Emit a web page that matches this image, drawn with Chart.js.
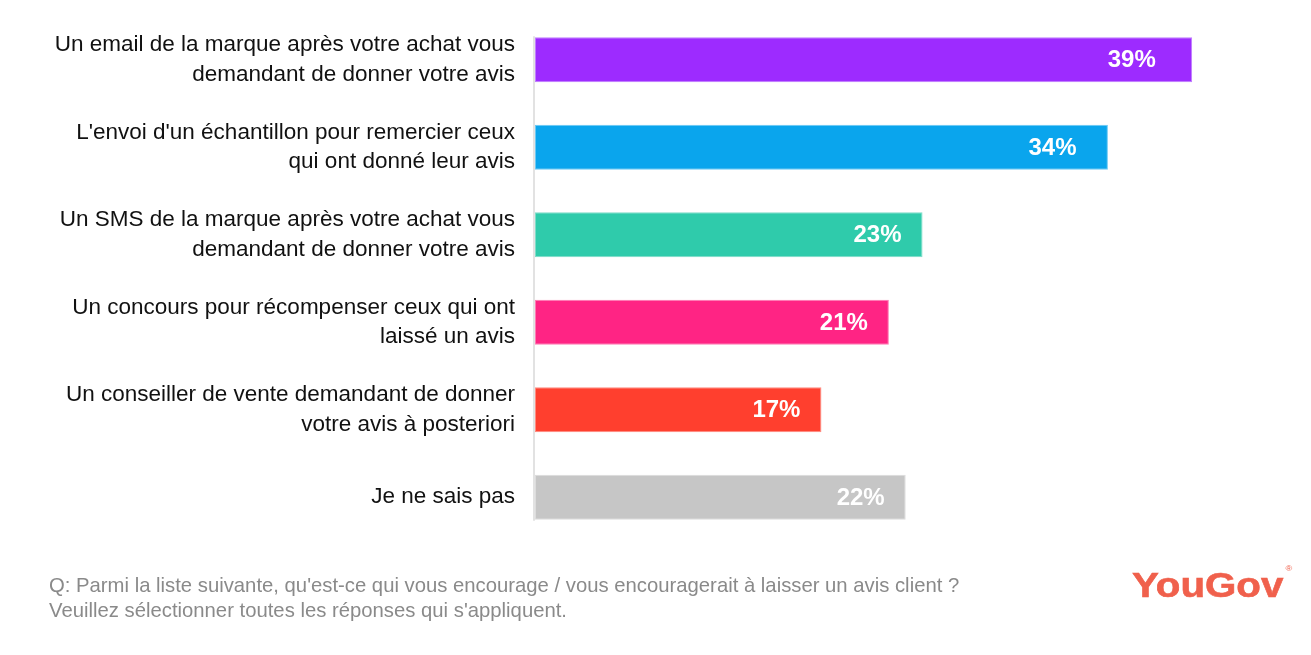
<!DOCTYPE html>
<html><head><meta charset="utf-8">
<script src="https://cdn.jsdelivr.net/npm/chart.js@4"></script>
<style>
html,body{margin:0;padding:0;background:#fff;}
#wrap{position:relative;width:1311px;height:655px;font-family:"Liberation Sans",Arial,sans-serif;}
#c{position:absolute;left:0;top:0;}
#foot{position:absolute;left:49px;top:573px;color:#8a8a8a;font-size:20.3px;line-height:25px;white-space:nowrap;}
#logo{position:absolute;left:1132px;top:565px;color:#f0604c;font-size:35px;font-weight:bold;letter-spacing:0px;white-space:nowrap;transform:scaleX(1.15);transform-origin:0 0;-webkit-text-stroke:0.6px #f0604c;}
#logo sup{font-size:8px;font-weight:normal;position:relative;top:-13px;left:2px;letter-spacing:0;-webkit-text-stroke:0;}
</style></head>
<body><div id="wrap"><canvas id="c" width="1311" height="655"></canvas>
<div id="foot">Q: Parmi la liste suivante, qu'est-ce qui vous encourage / vous encouragerait à laisser un avis client ?<br>Veuillez sélectionner toutes les réponses qui s'appliquent.</div>
<div id="logo">YouGov<sup>®</sup></div>
</div>
<script>
const categories = [
  ["Un email de la marque après votre achat vous","demandant de donner votre avis"],
  ["L'envoi d'un échantillon pour remercier ceux","qui ont donné leur avis"],
  ["Un SMS de la marque après votre achat vous","demandant de donner votre avis"],
  ["Un concours pour récompenser ceux qui ont","laissé un avis"],
  ["Un conseiller de vente demandant de donner","votre avis à posteriori"],
  ["Je ne sais pas"]
];
const values = [39, 34, 23, 21, 17, 22];
const valueLabels = ["39%", "34%", "23%", "21%", "17%", "22%"];
const barColors = ["#9d2bff", "#0aa5ed", "#2fcbab", "#ff2484", "#ff3f2e", "#c6c6c6"];
const borderColors = ["#c07dff", "#6cc9f4", "#7fdcc8", "#ff7ab4", "#ff8b80", "#dcdcdc"];

const valuePlugin = {
  id: 'vals',
  afterDatasetsDraw(chart) {
    const ctx = chart.ctx;
    const meta = chart.getDatasetMeta(0);
    ctx.save();
    ctx.font = 'bold 24px "Liberation Sans", Arial, sans-serif';
    ctx.fillStyle = '#fff';
    ctx.textAlign = 'right';
    ctx.textBaseline = 'middle';
    meta.data.forEach((bar, i) => {
      const w = bar.x - bar.base;
      ctx.fillText(valueLabels[i], bar.x - 21 - Math.max(0, w - 400) * 0.06, bar.y + 1);
    });
    const first = meta.data[0], last = meta.data[meta.data.length-1];
    ctx.strokeStyle = '#d9d9d9';
    ctx.lineWidth = 1.5;
    ctx.beginPath();
    ctx.moveTo(first.base - 1, first.y - first.height/2 - 1);
    ctx.lineTo(first.base - 1, last.y + last.height/2 + 1);
    ctx.stroke();
    ctx.restore();
  }
};

new Chart(document.getElementById('c'), {
  type: 'bar',
  data: {
    labels: categories,
    datasets: [{
      data: values,
      backgroundColor: barColors,
      borderColor: borderColors,
      borderWidth: 1,
      borderSkipped: false,
      barPercentage: 0.86,
      categoryPercentage: 0.6
    }]
  },
  options: {
    indexAxis: 'y',
    responsive: false,
    animation: false,
    layout: { padding: { left: 0, right: 102, top: 16, bottom: 114 } },
    plugins: { legend: { display: false }, tooltip: { enabled: false } },
    scales: {
      x: { min: 0, max: 40, display: false },
      y: {
        grid: { display: false },
        border: { display: false },
        ticks: {
          color: '#111',
          font: { size: 22.5, family: '"Liberation Sans", Arial, sans-serif', lineHeight: 1.3 },
          padding: 12
        },
        afterFit(scale) {
          scale.width = 535;
          scale.paddingTop = 0;
          scale.paddingBottom = 0;
        }
      }
    }
  },
  plugins: [valuePlugin]
});
</script>
</body></html>
